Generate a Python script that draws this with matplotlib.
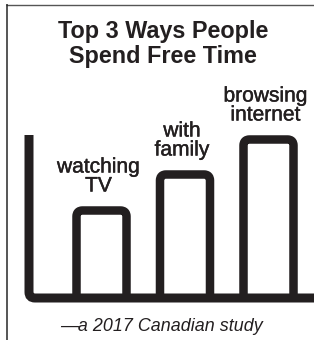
import matplotlib
matplotlib.use('Agg')
import matplotlib.pyplot as plt
import matplotlib.patheffects as pe
from matplotlib.path import Path
from matplotlib.patches import PathPatch

# data
labels = ['watching\nTV', 'with\nfamily', 'browsing\ninternet']
values = [87.5, 123.5, 158.5]
title = 'Top 3 Ways People\nSpend Free Time'
source = '\u2014a 2017 Canadian study'

ink = '#231f20'
plt.rcParams['font.family'] = ['Liberation Sans', 'DejaVu Sans']

W, H = 314, 340
fig = plt.figure(figsize=(W / 100, H / 100), dpi=100)
ax = fig.add_axes([0, 0, 1, 1])
ax.set_xlim(0, W)
ax.set_ylim(0, H)
ax.axis('off')

px = 72 / 100  # points per pixel
base = 42
first = 101.5
step = 83.5
half = 25
r = 6
heavy = [pe.withStroke(linewidth=0.3, foreground=ink)]

# bars: open outlines with rounded top corners
for i, v in enumerate(values):
    c = first + i * step
    x0, x1, top = c - half, c + half, base + v
    verts = [(x0, base), (x0, top - r), (x0, top), (x0 + r, top),
             (x1 - r, top), (x1, top), (x1, top - r), (x1, base)]
    codes = [Path.MOVETO, Path.LINETO, Path.CURVE3, Path.CURVE3,
             Path.LINETO, Path.CURVE3, Path.CURVE3, Path.LINETO]
    ax.add_patch(PathPatch(Path(verts, codes), fill=False, edgecolor=ink,
                           lw=8.5 * px, capstyle='butt', joinstyle='round'))
    # va='baseline' on multi-line text pins the last line
    ax.text(c - 3, top + 19, labels[i], ha='center', va='baseline',
            multialignment='center', fontsize=15.1, color=ink, linespacing=1.0,
            path_effects=heavy)

# L-shaped axis
ax_top = base + 163
verts = [(29, ax_top), (29, base + r), (29, base), (29 + r, base), (W + 5, base)]
codes = [Path.MOVETO, Path.LINETO, Path.CURVE3, Path.CURVE3, Path.LINETO]
ax.add_patch(PathPatch(Path(verts, codes), fill=False, edgecolor=ink,
                       lw=9 * px, capstyle='butt'))

# frame lines (top and left only)
ax.plot([6, W], [335.3, 335.3], color='#555555', lw=1.4 * px, solid_capstyle='butt')
ax.plot([6.7, 6.7], [0, 336], color='#222222', lw=1.5 * px, solid_capstyle='butt')

ax.text(163, 277.3, title, ha='center', va='baseline', multialignment='center',
        fontsize=16.8, fontweight='bold', color=ink, linespacing=1.1)
ax.text(161, 9.3, source, ha='center', va='baseline', fontsize=12.9,
        fontstyle='italic', color=ink)

fig.savefig('out.png', dpi=100)
